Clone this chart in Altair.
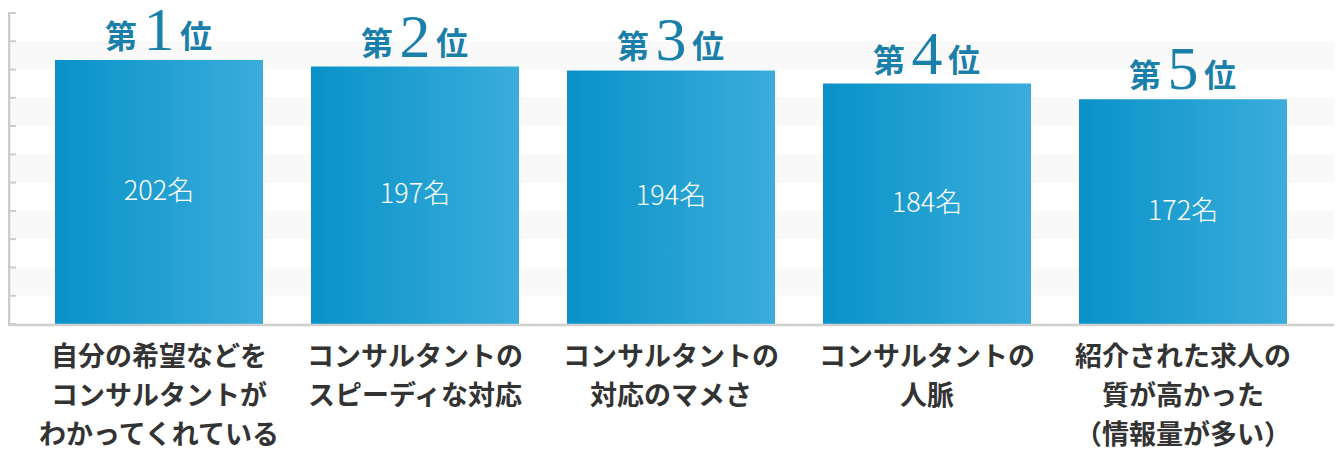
import pandas as pd
import altair as alt

# data
items = [
    "自分の希望などを\nコンサルタントが\nわかってくれている",
    "コンサルタントの\nスピーディな対応",
    "コンサルタントの\n対応のマメさ",
    "コンサルタントの\n人脈",
    "紹介された求人の\n質が高かった\n（情報量が多い）",
]
counts = [202, 197, 194, 184, 172]
ranks = ["1", "2", "3", "4", "5"]

# light grid: tick marks on the left and the shaded bands between them
ticks = [0, 21.6, 43.3, 64.9, 86.5, 108.2, 129.8, 151.5, 173.1, 194.7, 216.4, 238.0]
band_lo = [21.6, 64.9, 108.2, 151.5, 194.7]
band_hi = [43.3, 86.5, 129.8, 173.1, 216.4]

W = 1326
H = 316

df = pd.DataFrame({
    'item': items,
    'count': counts,
    'rank': ranks,
    'label': [f"{c}名" for c in counts],
    'mid': [c / 2 for c in counts],
})
df_ticks = pd.DataFrame({'t': ticks})
df_bands = pd.DataFrame({'lo': band_lo, 'hi': band_hi})
df_axis = pd.DataFrame({'lo': [ticks[0]], 'hi': [ticks[-1]]})

yscale = alt.Scale(domain=[0, 241.8])
xscale = alt.Scale(paddingInner=0.1875, paddingOuter=0.1836)
X = alt.X('item:N', sort=None, axis=None, scale=xscale)

jp = "Noto Sans CJK JP"
rank_color = "#1a80aa"

bands = alt.Chart(df_bands).mark_rect(color='#f9f9f9').encode(
    y=alt.Y('lo:Q', scale=yscale, axis=None), y2='hi:Q',
    x=alt.value(0), x2=alt.value(W)
)

grad = alt.LinearGradient(
    gradient='linear',
    stops=[alt.GradientStop(color='#0992c8', offset=0),
           alt.GradientStop(color='#3aaddb', offset=1)],
    x1=0, x2=1, y1=0, y2=0
)
bars = alt.Chart(df).mark_bar(color=grad).encode(
    x=X, y=alt.Y('count:Q', scale=yscale, axis=None)
)

tick_marks = alt.Chart(df_ticks).mark_rule(color='#cccccc', strokeWidth=2).encode(
    y=alt.Y('t:Q', scale=yscale, axis=None), x=alt.value(0), x2=alt.value(8)
)
axis_line = alt.Chart(df_axis).mark_rule(color='#cccccc', strokeWidth=2.5).encode(
    y=alt.Y('lo:Q', scale=yscale, axis=None), y2='hi:Q', x=alt.value(1)
)
baseline = alt.Chart(df_axis).mark_rule(color='#d0d0d0', strokeWidth=2.5).encode(
    y=alt.value(H + 1), x=alt.value(0), x2=alt.value(W)
)

values = alt.Chart(df).mark_text(font=jp, fontWeight=300, fontSize=27, color='white',
                                 baseline='middle').encode(
    x=X, y=alt.Y('mid:Q', scale=yscale, axis=None), text='label:N'
)

dai = alt.Chart(df).mark_text(text='第', font=jp, fontWeight='bold', fontSize=32,
                              color=rank_color, baseline='alphabetic', dx=-38, dy=-12).encode(
    x=X, y=alt.Y('count:Q', scale=yscale, axis=None)
)
num = alt.Chart(df).mark_text(font='Liberation Serif', fontSize=62,
                              color=rank_color, baseline='alphabetic', dy=-10).encode(
    x=X, y=alt.Y('count:Q', scale=yscale, axis=None), text='rank:N'
)
i_ = alt.Chart(df).mark_text(text='位', font=jp, fontWeight='bold', fontSize=32,
                             color=rank_color, baseline='alphabetic', dx=37, dy=-12).encode(
    x=X, y=alt.Y('count:Q', scale=yscale, axis=None)
)

cats = alt.Chart(df).mark_text(font=jp, fontWeight='bold', fontSize=27, color='#333333',
                               baseline='top', lineBreak='\n', lineHeight=39).encode(
    x=X, y=alt.value(H + 21), text='item:N'
)

chart = alt.layer(bands, bars, tick_marks, axis_line, baseline, values, dai, num, i_, cats).properties(
    width=W, height=H,
    autosize=alt.AutoSizeParams(type='none'),
    padding={'left': 0, 'top': 0, 'right': 0, 'bottom': 125}
).configure_view(stroke=None)

chart.save("out.html", embed_options={"renderer": "svg", "actions": False})
